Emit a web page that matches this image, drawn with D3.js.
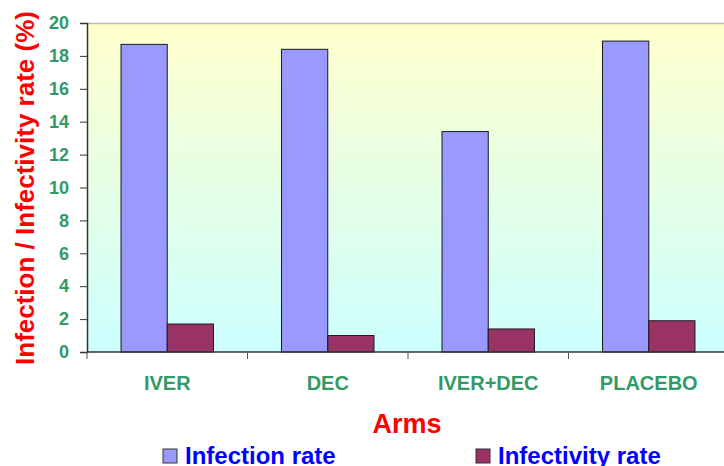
<!DOCTYPE html>
<html><head><meta charset="utf-8">
<script src="https://cdn.jsdelivr.net/npm/d3@7"></script>
<style>body{margin:0;background:#fff}svg{display:block}text{font-family:"Liberation Sans",Arial,sans-serif;font-weight:bold}</style>
</head><body><svg id="c" width="724" height="466"></svg>
<script>
const categories = ["IVER", "DEC", "IVER+DEC", "PLACEBO"];
const seriesNames = ["Infection rate", "Infectivity rate"];
const infectionRate = [18.7, 18.4, 13.4, 18.9];
const infectivityRate = [1.7, 1.0, 1.4, 1.9];
const yTicks = [0, 2, 4, 6, 8, 10, 12, 14, 16, 18, 20];
const colors = ["#9999FF", "#993366"];

const svg = d3.select("#c");
const L = 87, R = 729, T = 23, B = 352;
const x = d3.scaleBand().domain(categories).range([L, R]).paddingInner(0).paddingOuter(0);
const y = d3.scaleLinear().domain([0, 20]).range([B, T]);
const bw = x.bandwidth();
const inner = d3.scaleBand().domain([0, 1]).range([bw * 0.212, bw * 0.788]).paddingInner(0).paddingOuter(0);

const defs = svg.append("defs");
const g = defs.append("linearGradient").attr("id", "bg").attr("x1", 0).attr("y1", 0).attr("x2", 0).attr("y2", 1);
g.append("stop").attr("offset", "0%").attr("stop-color", "#FFFFCC");
g.append("stop").attr("offset", "100%").attr("stop-color", "#CCFFFF");

svg.append("rect").attr("x", L).attr("y", T).attr("width", R - L).attr("height", B - T).attr("fill", "url(#bg)");
svg.append("line").attr("x1", L).attr("x2", R).attr("y1", T + 0.5).attr("y2", T + 0.5).attr("stroke", "#bbb").attr("stroke-width", 1.5);

const data = categories.map((c, i) => ({c, v: [infectionRate[i], infectivityRate[i]]}));
const grp = svg.append("g");
data.forEach(d => {
  d.v.forEach((v, j) => {
    grp.append("rect")
      .attr("x", x(d.c) + inner(j))
      .attr("y", y(v))
      .attr("width", inner.bandwidth())
      .attr("height", y(0) - y(v))
      .attr("fill", colors[j])
      .attr("stroke", "#1a1a1a").attr("stroke-width", 1);
  });
});

// Y axis
const ya = svg.append("g").attr("transform", `translate(${L},0)`)
  .call(d3.axisLeft(y).tickValues(yTicks).tickSize(7).tickPadding(11));
ya.select(".domain").attr("stroke", "#333").attr("stroke-width", 1.5);
ya.selectAll(".tick line").attr("stroke", "#333");
ya.selectAll(".tick text").attr("fill", "#339966").style("font-size", "18px").style("font-family", "'Liberation Sans',Arial,sans-serif").style("font-weight", "bold");

// X axis
const xa = svg.append("g").attr("transform", `translate(0,${B})`);
xa.append("line").attr("x1", L).attr("x2", R).attr("y1", 0).attr("y2", 0).attr("stroke", "#333").attr("stroke-width", 1.5);
xa.selectAll(".bt").data(categories.concat(["_end"])).enter().append("line")
  .attr("x1", (d, i) => L + i * bw).attr("x2", (d, i) => L + i * bw)
  .attr("y1", 0).attr("y2", 7).attr("stroke", "#555");
xa.selectAll(".lb").data(categories).enter().append("text")
  .attr("x", d => x(d) + bw / 2).attr("y", 38)
  .attr("text-anchor", "middle").attr("fill", "#339966").style("font-size", "20px").text(d => d);

// Titles
svg.append("text").attr("transform", "translate(34,188) rotate(-90)")
  .attr("text-anchor", "middle").attr("fill", "#FF0000").style("font-size", "26px")
  .text("Infection / Infectivity rate (%)");
svg.append("text").attr("x", 407).attr("y", 433).attr("text-anchor", "middle")
  .attr("fill", "#FF0000").style("font-size", "27px").text("Arms");

// Legend
const legX = [163, 476];
seriesNames.forEach((n, i) => {
  svg.append("rect").attr("x", legX[i]).attr("y", 449).attr("width", 14).attr("height", 14)
    .attr("fill", colors[i]).attr("stroke", "#333").attr("stroke-width", 1);
  svg.append("text").attr("x", legX[i] + 22).attr("y", 464).attr("fill", "#0000FF")
    .style("font-size", "24px").text(n);
});
</script></body></html>
